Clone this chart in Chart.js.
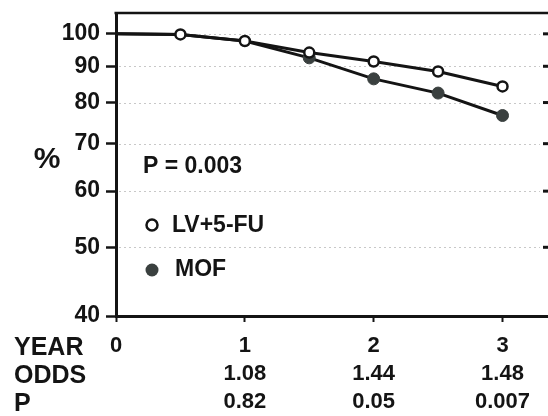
<!DOCTYPE html>
<html><head><meta charset="utf-8">
<script src="https://cdn.jsdelivr.net/npm/chart.js@4/dist/chart.umd.min.js"></script>
<style>html,body{margin:0;padding:0;background:#fff}#wrap{width:548px;height:416px}</style>
</head><body><div id="wrap"><canvas id="c" width="548" height="416"></canvas></div>
<script>
const years = [0, 0.5, 1, 1.5, 2, 2.5, 3];
const lvfu = [100, 99.8, 97.7, 94.1, 91.4, 88.5, 84.3];
const mof = [100, 99.8, 97.7, 92.5, 86.4, 82.5, 76.7];
const yTicks = [40, 50, 60, 70, 80, 90, 100];
const xTicks = [0, 1, 2, 3];
const odds = ['', '1.08', '1.44', '1.48'];
const pvals = ['', '0.82', '0.05', '0.007'];
const rowLabels = ['YEAR', 'ODDS', 'P'];
const pText = 'P = 0.003';
const seriesNames = ['LV+5-FU', 'MOF'];
const yTitle = '%';

const INK = '#141414';
const FONT = '"Liberation Sans", Arial, Helvetica, sans-serif';

const deco = {
  id: 'deco',
  beforeDatasetsDraw(chart) {
    const {ctx, chartArea: a, scales: {y}} = chart;
    ctx.save();
    ctx.strokeStyle = '#c8c8c8'; ctx.lineWidth = 1; ctx.setLineDash([2, 3]);
    yTicks.forEach(v => {
      if (v === yTicks[0]) return;
      const py = Math.round(y.getPixelForValue(v)) + 0.5;
      ctx.beginPath(); ctx.moveTo(a.left + 3, py); ctx.lineTo(a.right - 8, py); ctx.stroke();
    });
    ctx.setLineDash([]);
    ctx.strokeStyle = INK; ctx.lineWidth = 2.5;
    ctx.beginPath(); ctx.moveTo(a.left - 1.5, a.top); ctx.lineTo(a.right, a.top); ctx.stroke();
    ctx.lineWidth = 3;
    yTicks.forEach(v => {
      if (v === yTicks[0]) return;
      const py = y.getPixelForValue(v);
      ctx.beginPath(); ctx.moveTo(a.right - 5, py); ctx.lineTo(a.right, py); ctx.stroke();
    });
    ctx.restore();
  },
  afterDraw(chart) {
    const {ctx} = chart;
    ctx.save();
    ctx.fillStyle = INK;
    ctx.textBaseline = 'middle';
    ctx.textAlign = 'left';
    ctx.font = 'bold 25px ' + FONT;
    rowLabels.forEach((t, i) => ctx.fillText(t, 14, 348 + i * 28));
    ctx.font = 'bold 30px ' + FONT;
    ctx.textAlign = 'center';
    ctx.fillText(yTitle, 47, 160);
    ctx.textAlign = 'left';
    ctx.font = 'bold 23px ' + FONT;
    ctx.fillText(pText, 143, 167);
    // legend
    const ds = chart.data.datasets;
    ctx.font = 'bold 23px ' + FONT;
    ctx.fillText(ds[0].label, 172, 226);
    ctx.fillText(ds[1].label, 175, 270);
    ctx.beginPath(); ctx.arc(152, 225, 5.5, 0, Math.PI * 2);
    ctx.fillStyle = '#fff'; ctx.fill(); ctx.lineWidth = 2.5; ctx.strokeStyle = INK; ctx.stroke();
    ctx.beginPath(); ctx.arc(152, 270, 6.5, 0, Math.PI * 2);
    ctx.fillStyle = '#3a403f'; ctx.fill();
    ctx.restore();
  }
};

new Chart(document.getElementById('c'), {
  type: 'line',
  data: {
    datasets: [
      {
        label: seriesNames[0],
        data: years.map((x, i) => ({x, y: lvfu[i]})),
        borderColor: INK, borderWidth: 3, tension: 0,
        pointRadius: years.map((x, i) => i === 0 ? 0 : 5),
        pointBackgroundColor: '#fff', pointBorderColor: INK, pointBorderWidth: 2.5
      },
      {
        label: seriesNames[1],
        data: years.map((x, i) => ({x, y: mof[i]})),
        borderColor: INK, borderWidth: 3, tension: 0,
        pointRadius: years.map((x, i) => i < 3 ? 0 : 6),
        pointBackgroundColor: '#3a403f', pointBorderColor: '#3a403f', pointBorderWidth: 1
      }
    ]
  },
  options: {
    responsive: false, animation: false, devicePixelRatio: 1,
    layout: {padding: {top: 13, left: 0, right: 0, bottom: 0}, autoPadding: false},
    plugins: {legend: {display: false}, tooltip: {enabled: false}},
    scales: {
      x: {
        type: 'linear', min: 0, max: 3.353,
        afterBuildTicks: s => { s.ticks = xTicks.map(v => ({value: v})); },
        afterFit: s => { s.height = 100; s.paddingLeft = 0; s.paddingRight = 0; },
        grid: {drawOnChartArea: false, drawTicks: true, tickLength: 6, tickWidth: 2, tickColor: INK, color: INK},
        border: {display: true, color: INK, width: 3},
        ticks: {
          color: INK, padding: 10, maxRotation: 0, autoSkip: false,
          font: {family: FONT, size: 22, weight: 'bold', lineHeight: 28 / 22},
          callback: v => { const i = xTicks.indexOf(v); return [String(v), odds[i], pvals[i]]; }
        }
      },
      y: {
        type: 'logarithmic', min: 40, max: 107,
        afterBuildTicks: s => { s.ticks = yTicks.map(v => ({value: v})); },
        afterFit: s => { s.width = 116; s.paddingTop = 0; s.paddingBottom = 0; },
        grid: {drawOnChartArea: false, drawTicks: true, tickLength: 10, tickWidth: 2.5, tickColor: INK, color: INK},
        border: {display: true, color: INK, width: 3},
        ticks: {
          color: INK, padding: 6, autoSkip: false,
          font: {family: FONT, size: 23, weight: 'bold'},
          callback: v => String(v)
        }
      }
    }
  },
  plugins: [deco]
});
</script>
</body></html>
